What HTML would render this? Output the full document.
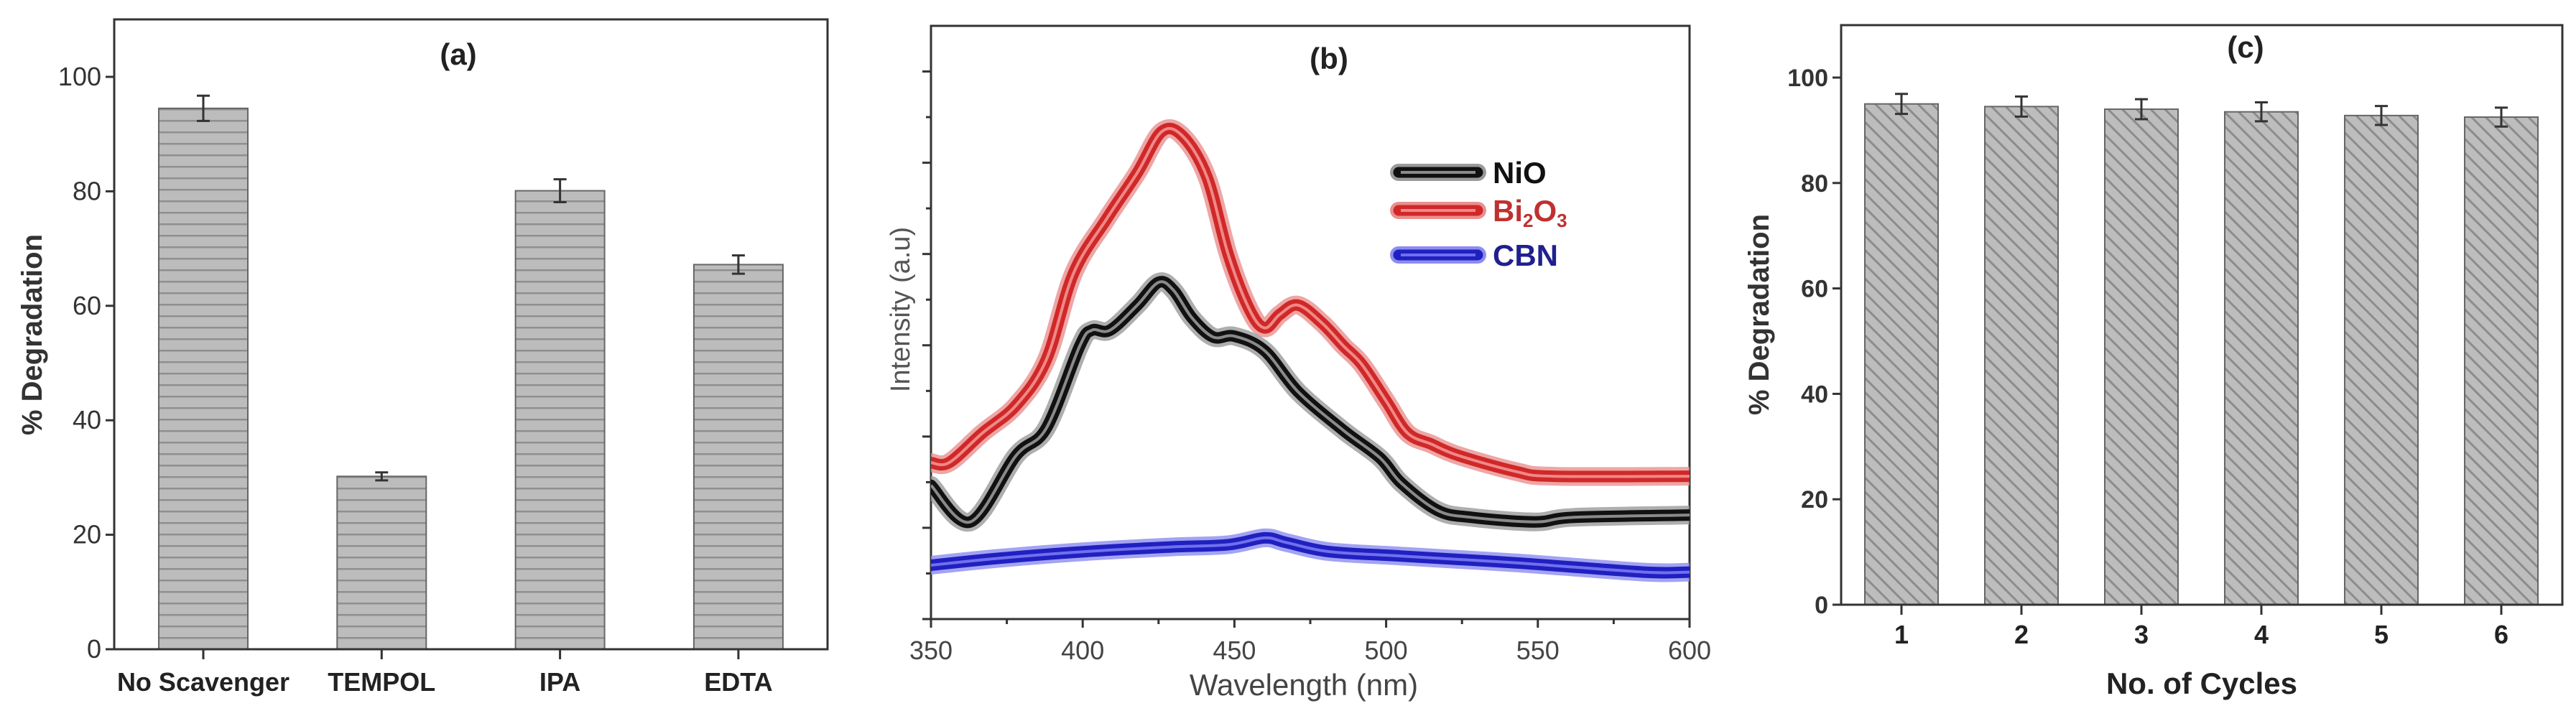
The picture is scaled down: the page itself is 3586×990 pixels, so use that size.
<!DOCTYPE html>
<html><head><meta charset="utf-8"><style>
html,body{margin:0;padding:0;background:#fff;}
svg{display:block;font-family:"Liberation Sans Narrow","Liberation Sans",sans-serif;}
</style></head><body>
<svg id="fig" width="3586" height="990" viewBox="0 0 3586 990" xmlns="http://www.w3.org/2000/svg">
<defs>
<pattern id="hatchH" width="16" height="16" patternUnits="userSpaceOnUse"><rect width="16" height="16" fill="#bcbcbc"/><rect y="7" width="16" height="2.5" fill="#8f8f8f"/></pattern>
<pattern id="hatchD" width="14" height="14" patternUnits="userSpaceOnUse" patternTransform="rotate(-45)"><rect width="14" height="14" fill="#bdbdbd"/><rect x="6" width="3" height="14" fill="#8c8c8c"/></pattern>
</defs>
<g id="pa"></g>
<g id="pb"></g>
<g id="pc"></g>
</svg>
<script>
// Panel (a) data
const aCategories = ["No Scavenger","TEMPOL","IPA","EDTA"];
const aValues = [94.5, 30.2, 80.1, 67.2];
const aErrors = [2.2, 0.7, 2.0, 1.6];
const aTicks = [0,20,40,60,80,100];
// Panel (b) data
const bWave = {
  NiO: [350,363,378,388,399,403,409,418,425,430,436,443,450,460,471,486,498,505,517,528,549,562,600],
  Bi2O3:[350,356,367,378,388,397,408,418,426,433,441,448,455,460,465,471,479,486,492,500,507,515,524,543,555,600],
  CBN: [350,372,401,429,448,460,467,481,505,543,585,600]
};
const bIntensity = {
  NiO: [2.93,2.13,3.58,4.18,5.98,6.33,6.33,6.88,7.38,7.2,6.6,6.18,6.2,5.88,4.98,4.13,3.53,2.98,2.38,2.23,2.13,2.23,2.28],
  Bi2O3:[3.43,3.43,4.08,4.68,5.68,7.58,8.78,9.78,10.68,10.58,9.68,7.98,6.78,6.38,6.68,6.88,6.48,5.98,5.58,4.78,4.08,3.83,3.58,3.23,3.13,3.13],
  CBN: [1.18,1.33,1.48,1.58,1.63,1.78,1.68,1.48,1.38,1.23,1.03,1.03]
};
const bXTicks = [350,400,450,500,550,600];
// Panel (c) data
const cCategories = ["1","2","3","4","5","6"];
const cValues = [95.0, 94.5, 94.0, 93.5, 92.8, 92.5];
const cErrors = [1.9, 1.9, 1.9, 1.8, 1.8, 1.8];
const cTicks = [0,20,40,60,80,100];

const NS="http://www.w3.org/2000/svg";
function mk(parent, tag, attrs, text){
  const e=document.createElementNS(NS,tag);
  for(const k in attrs) e.setAttribute(k,attrs[k]);
  if(text!==undefined) e.textContent=text;
  parent.appendChild(e); return e;
}
function smooth(pts){
  let d='M'+pts[0][0].toFixed(1)+','+pts[0][1].toFixed(1);
  for(let i=0;i<pts.length-1;i++){
    const p0=pts[Math.max(0,i-1)],p1=pts[i],p2=pts[i+1],p3=pts[Math.min(pts.length-1,i+2)];
    const c1=[p1[0]+(p2[0]-p0[0])/6,p1[1]+(p2[1]-p0[1])/6];
    const c2=[p2[0]-(p3[0]-p1[0])/6,p2[1]-(p3[1]-p1[1])/6];
    d+=`C${c1[0].toFixed(1)},${c1[1].toFixed(1)} ${c2[0].toFixed(1)},${c2[1].toFixed(1)} ${p2[0].toFixed(1)},${p2[1].toFixed(1)}`;
  }
  return d;
}

function barPanel(g, o){
  const ys=v=>o.y0-(v/100)*(o.y0-o.y100);
  const xs=i=>o.x0c+i*o.step;
  const frame=mk(g,'rect',{x:o.L,y:o.T,width:o.R-o.L,height:o.B-o.T,fill:'none',stroke:'#333',"stroke-width":3});
  
  
  o.ticks.forEach(t=>{
    const y=ys(t);
    const tk=mk(g,'line',{x1:o.L-12,x2:o.L,y1:y,y2:y,stroke:'#333',"stroke-width":3});
    
    
    const lb=mk(g,'text',{x:o.L-18,y:y+12,"text-anchor":'end',"font-size":o.tickFs,"font-weight":o.tickW,fill:'#333'},String(t));
    
    
  });
  o.cats.forEach((c,i)=>{
    const x=xs(i), v=o.vals[i], e=o.errs[i];
    const bar=mk(g,'rect',{x:x-o.bw/2,y:ys(v),width:o.bw,height:o.y0-ys(v),fill:o.fill,stroke:'#666',"stroke-width":2});
    
    
    const eb=mk(g,'path',{d:`M${x},${ys(v+e)}V${ys(v-e)}M${x-9},${ys(v+e)}H${x+9}M${x-9},${ys(v-e)}H${x+9}`,stroke:'#333',"stroke-width":3,fill:'none'});
    
    
    const tk=mk(g,'line',{x1:x,x2:x,y1:o.y0,y2:o.y0+14,stroke:'#333',"stroke-width":3});
    
    
    const lb=mk(g,'text',{x:x,y:o.catY,"text-anchor":'middle',"font-size":o.catFs,"font-weight":'bold',fill:'#222'},c);
    
    
  });
  const ax=mk(g,'line',{x1:o.L-12,x2:o.R,y1:o.y0,y2:o.y0,stroke:'#333',"stroke-width":3});
  
  
  const t=mk(g,'text',{x:o.titleX,y:o.titleY,"text-anchor":'middle',"font-size":42,"font-weight":'bold',fill:'#222'},o.title);
  
  
  const yt=mk(g,'text',{x:0,y:0,transform:`translate(${o.ytX},${o.ytY}) rotate(-90)`,"text-anchor":'middle',"font-size":40,"font-weight":'bold',fill:'#333',"font-family":'"Liberation Sans",sans-serif'},'% Degradation');
  
  
  if(o.xt){
    const xt=mk(g,'text',{x:o.xtX,y:o.xtY,"text-anchor":'middle',"font-size":42,"font-weight":'bold',fill:'#222',"font-family":'"Liberation Sans",sans-serif'},o.xt);
    
    
  }
}

barPanel(document.getElementById('pa'),{L:159,R:1152,T:27,B:904,y0:904,y100:107,x0c:283,step:248.3,bw:124,
  cats:aCategories,vals:aValues,errs:aErrors,ticks:aTicks,fill:'url(#hatchH)',tickFs:36,tickW:'normal',catFs:36,catY:962,
  title:'(a)',titleX:638,titleY:90,ytX:58,ytY:466});
barPanel(document.getElementById('pc'),{L:2563,R:3567,T:35,B:842,y0:842,y100:108,x0c:2647,step:167,bw:102,
  cats:cCategories,vals:cValues,errs:cErrors,ticks:cTicks,fill:'url(#hatchD)',tickFs:34,tickW:'bold',catFs:36,catY:896,
  title:'(c)',titleX:3126,titleY:80,ytX:2462,ytY:438,xt:'No. of Cycles',xtX:3065,xtY:966});

// Panel b
(function(){
  const g=document.getElementById('pb');
  const L=1296,R=2352,T=36,B=862;
  const xs=w=>L+(w-350)*(R-L)/250;
  const ys=v=>B-v*(B-T)/13;
  const frame=mk(g,'rect',{x:L,y:T,width:R-L,height:B-T,fill:'none',stroke:'#333',"stroke-width":3});
  
  
  for(let v=0;v<=12;v++){
    const y=ys(v);
    const tk=mk(g,'line',{x1:L-(v%2===0?12:7),x2:L,y1:y,y2:y,stroke:'#333',"stroke-width":3});
    
    
  }
  for(let w=350;w<=600;w+=25){
    const x=xs(w);
    const tk=mk(g,'line',{x1:x,x2:x,y1:B,y2:B+(w%50===0?12:7),stroke:'#333',"stroke-width":3});
    
    
  }
  bXTicks.forEach(w=>{
    const lb=mk(g,'text',{x:xs(w),y:918,"text-anchor":'middle',"font-size":36,fill:'#444'},String(w));
    
    
  });
  const cols={NiO:['#9a9a9a','#111','#8a8a8a'],Bi2O3:['#e89090','#d02828','#f08888'],CBN:['#8c8cf0','#2020c0','#7070ee']};
  const cp=mk(g,'clipPath',{id:'clipB'});
  mk(cp,'rect',{x:L,y:T,width:R-L,height:B-T});
  ['Bi2O3','NiO','CBN'].forEach(k=>{
    const d=smooth(bWave[k].map((w,i)=>[xs(w),ys(bIntensity[k][i])]));
    const c=cols[k];
    const s=mk(g,'g',{"clip-path":'url(#clipB)'});
    
    
    mk(s,'path',{d:d,fill:'none',stroke:c[0],"stroke-width":26,"stroke-linejoin":'round',"stroke-linecap":'round',opacity:0.8});
    mk(s,'path',{d:d,fill:'none',stroke:c[1],"stroke-width":16,"stroke-linejoin":'round',"stroke-linecap":'round'});
    mk(s,'path',{d:d,fill:'none',stroke:c[2],"stroke-width":4,"stroke-linejoin":'round'});
  });
  const legY=[240,293,355], keys=['NiO','Bi2O3','CBN'], txtCol=['#111','#c03030','#202090'];
  keys.forEach((k,i)=>{
    const c=cols[k];
    const le=mk(g,'g',{});
    
    
    mk(le,'line',{x1:1947,x2:2057,y1:legY[i],y2:legY[i],stroke:c[0],"stroke-width":24,"stroke-linecap":'round'});
    mk(le,'line',{x1:1947,x2:2057,y1:legY[i],y2:legY[i],stroke:c[1],"stroke-width":15,"stroke-linecap":'round'});
    mk(le,'line',{x1:1950,x2:2054,y1:legY[i],y2:legY[i],stroke:c[2],"stroke-width":4});
    const t=mk(le,'text',{x:2078,y:legY[i]+15,"font-size":42,"font-weight":'bold',fill:txtCol[i],"font-family":'"Liberation Sans",sans-serif'});
    if(k==='Bi2O3'){
      t.innerHTML='Bi<tspan font-size="26" dy="8">2</tspan><tspan dy="-8">O</tspan><tspan font-size="26" dy="8">3</tspan>';
    } else t.textContent=k;
  });
  const tt=mk(g,'text',{x:1850,y:96,"text-anchor":'middle',"font-size":42,"font-weight":'bold',fill:'#222'},'(b)');
  
  
  const xt=mk(g,'text',{x:1815,y:968,"text-anchor":'middle',"font-size":42,fill:'#444'},'Wavelength (nm)');
  
  
  const yt=mk(g,'text',{x:0,y:0,transform:'translate(1266,431) rotate(-90)',"text-anchor":'middle',"font-size":38,fill:'#555'},'Intensity (a.u)');
  
  
})();
</script>
</body></html>
